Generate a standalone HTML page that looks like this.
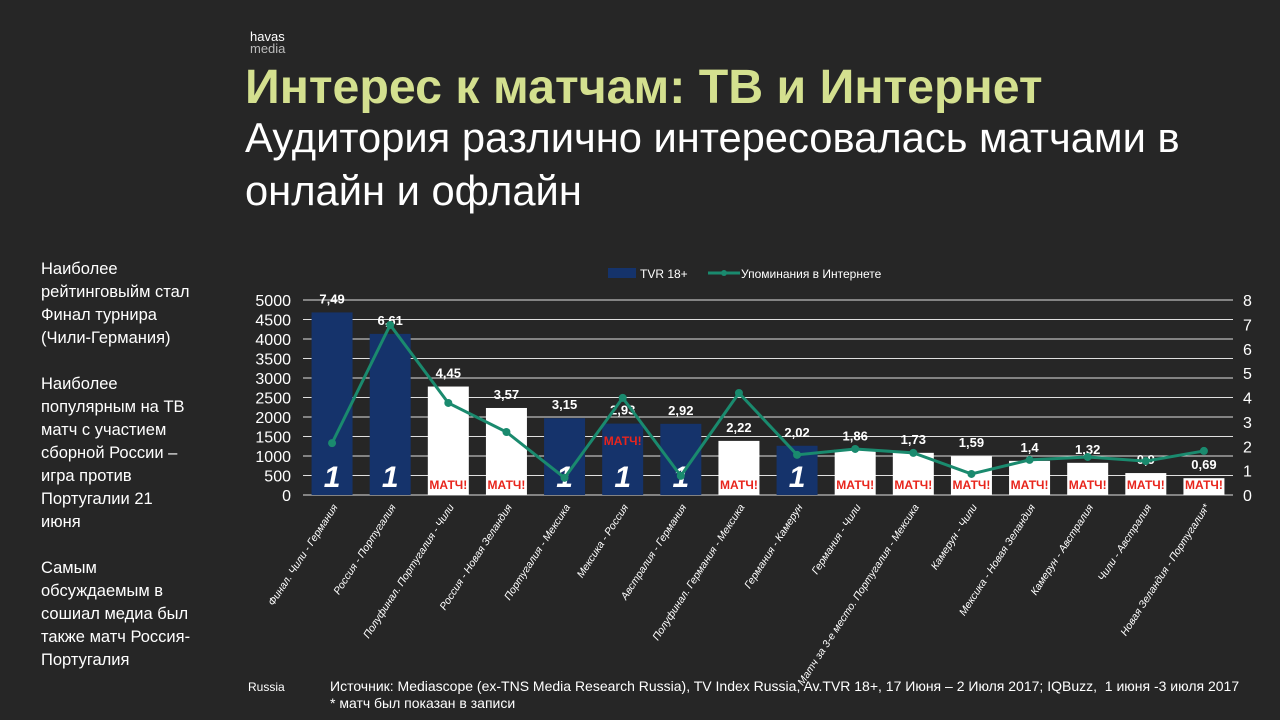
<!DOCTYPE html>
<html><head><meta charset="utf-8"><style>
body{margin:0;width:1280px;height:720px;background:#262626;overflow:hidden;font-family:"Liberation Sans",sans-serif;color:#fff;position:relative}
.abs{position:absolute}
</style></head><body>
<div class="abs" style="left:250px;top:31px;font-size:13px;line-height:12px">havas<br><span style="color:#bbb">media</span></div>
<div class="abs" style="left:245px;top:59px;font-size:48.3px;font-weight:bold;color:#d4e08f;white-space:nowrap">Интерес к матчам: ТВ и Интернет</div>
<div class="abs" style="left:245px;top:111px;font-size:41.7px;line-height:53px;width:970px">Аудитория различно интересовалась матчами в онлайн и офлайн</div>
<div class="abs" style="left:41px;top:258px;font-size:16.5px;line-height:23px;width:151px">
<div>Наиболее рейтинговыйм стал Финал турнира (Чили-Германия)</div><br>
<div>Наиболее популярным на ТВ матч с участием сборной России – игра против Португалии 21 июня</div><br>
<div>Самым обсуждаемым в сошиал медиа был также матч Россия-Португалия</div></div>
<div class="abs" style="left:248px;top:680px;font-size:12px">Russia</div>
<div class="abs" style="left:330px;top:678px;font-size:14px;line-height:17px;white-space:nowrap">Источник: Mediascope (ex-TNS Media Research Russia), TV Index Russia, Av.TVR 18+, 17 Июня – 2 Июля 2017; IQBuzz,&nbsp; 1 июня -3 июля 2017<br>* матч был показан в записи</div>
<svg class="abs" style="left:0;top:0" width="1280" height="720" id="chart"></svg>
<script>
const categories=["Финал. Чили - Германия","Россия - Португалия","Полуфинал. Португалия - Чили","Россия - Новая Зеландия","Португалия - Мексика","Мексика - Россия","Австралия - Германия","Полуфинал. Германия - Мексика","Германия - Камерун","Германия - Чили","Матч за 3-е место. Португалия - Мексика","Камерун - Чили","Мексика - Новая Зеландия","Камерун - Австралия","Чили - Австралия","Новая Зеландия - Португалия*"];
const tvr=[7.49,6.61,4.45,3.57,3.15,2.93,2.92,2.22,2.02,1.86,1.73,1.59,1.4,1.32,0.9,0.69];
const tvrLabels=["7,49","6,61","4,45","3,57","3,15","2,93","2,92","2,22","2,02","1,86","1,73","1,59","1,4","1,32","0,9","0,69"];
const mentions=[1330,4360,2360,1615,440,2490,490,2615,1030,1180,1080,540,900,975,870,1130];
const channel=["p","p","m","m","p","pm","p","m","p","m","m","m","m","m","m","m"];
const leftTicks=[0,500,1000,1500,2000,2500,3000,3500,4000,4500,5000];
const rightTicks=[0,1,2,3,4,5,6,7,8];
const svg=document.getElementById('chart');const NS='http://www.w3.org/2000/svg';
function mk(t,a,p){const e=document.createElementNS(NS,t);for(const k in a)e.setAttribute(k,a[k]);(p||svg).appendChild(e);return e;}
const x0=303,x1=1233,yB=495,yT=300,step=(x1-x0)/categories.length;
const yL=v=>yB-(v/5000)*(yB-yT), yR=v=>yB-(v/8)*(yB-yT), xC=i=>x0+step*(i+0.5);
leftTicks.forEach(v=>{const l=mk('line',{x1:x0,x2:x1,y1:yL(v),y2:yL(v),stroke:'#e0e0e0','stroke-width':1});

const t=mk('text',{x:291,y:yL(v)+6,'text-anchor':'end','font-size':16,fill:'#fff'});t.textContent=v;
});
rightTicks.forEach(v=>{const t=mk('text',{x:1243,y:yR(v)+6,'font-size':16,fill:'#fff'});t.textContent=v;
});
const bw=41;
tvr.forEach((v,i)=>{const c=channel[i];const blue=c[0]==='p';
const r=mk('rect',{x:xC(i)-bw/2,y:yR(v),width:bw,height:yB-yR(v),fill:blue?'#15336b':'#fff'});

if(blue){const t=mk('text',{x:xC(i),y:yB-8,'text-anchor':'middle','font-size':30,'font-weight':'bold','font-style':'italic',fill:'#fff'});t.textContent='1';
}
if(c.indexOf('m')>=0){const t=mk('text',{x:xC(i),y:blue?yB-50:yB-6,'text-anchor':'middle','font-size':12,'font-weight':'bold',fill:'#e8251c'});t.textContent='МАТЧ!';
}
const lb=mk('text',{x:xC(i),y:yR(v)-9,'text-anchor':'middle','font-size':13,'font-weight':'bold',fill:'#fff'});lb.textContent=tvrLabels[i];

const cl=mk('text',{transform:`translate(${xC(i)+6},${yB+12}) rotate(-57)`,'text-anchor':'end','font-size':10.5,'font-style':'italic',fill:'#fff'});cl.textContent=categories[i];
});
const ln=mk('polyline',{points:mentions.map((v,i)=>xC(i)+','+yL(v)).join(' '),fill:'none',stroke:'#1a8a6e','stroke-width':3});

mentions.forEach((v,i)=>{const d=mk('circle',{cx:xC(i),cy:yL(v),r:4,fill:'#1a8a6e'});
});
const lg=mk('g',{});
mk('rect',{x:608,y:268,width:28,height:10,fill:'#15336b'},lg);
const lt1=mk('text',{x:640,y:278,'font-size':12,fill:'#fff'},lg);lt1.textContent='TVR 18+';
mk('line',{x1:708,x2:740,y1:273,y2:273,stroke:'#1a8a6e','stroke-width':3},lg);
mk('circle',{cx:724,cy:273,r:3,fill:'#1a8a6e'},lg);
const lt2=mk('text',{x:741,y:278,'font-size':12,fill:'#fff'},lg);lt2.textContent='Упоминания в Интернете';
</script>
</body></html>
